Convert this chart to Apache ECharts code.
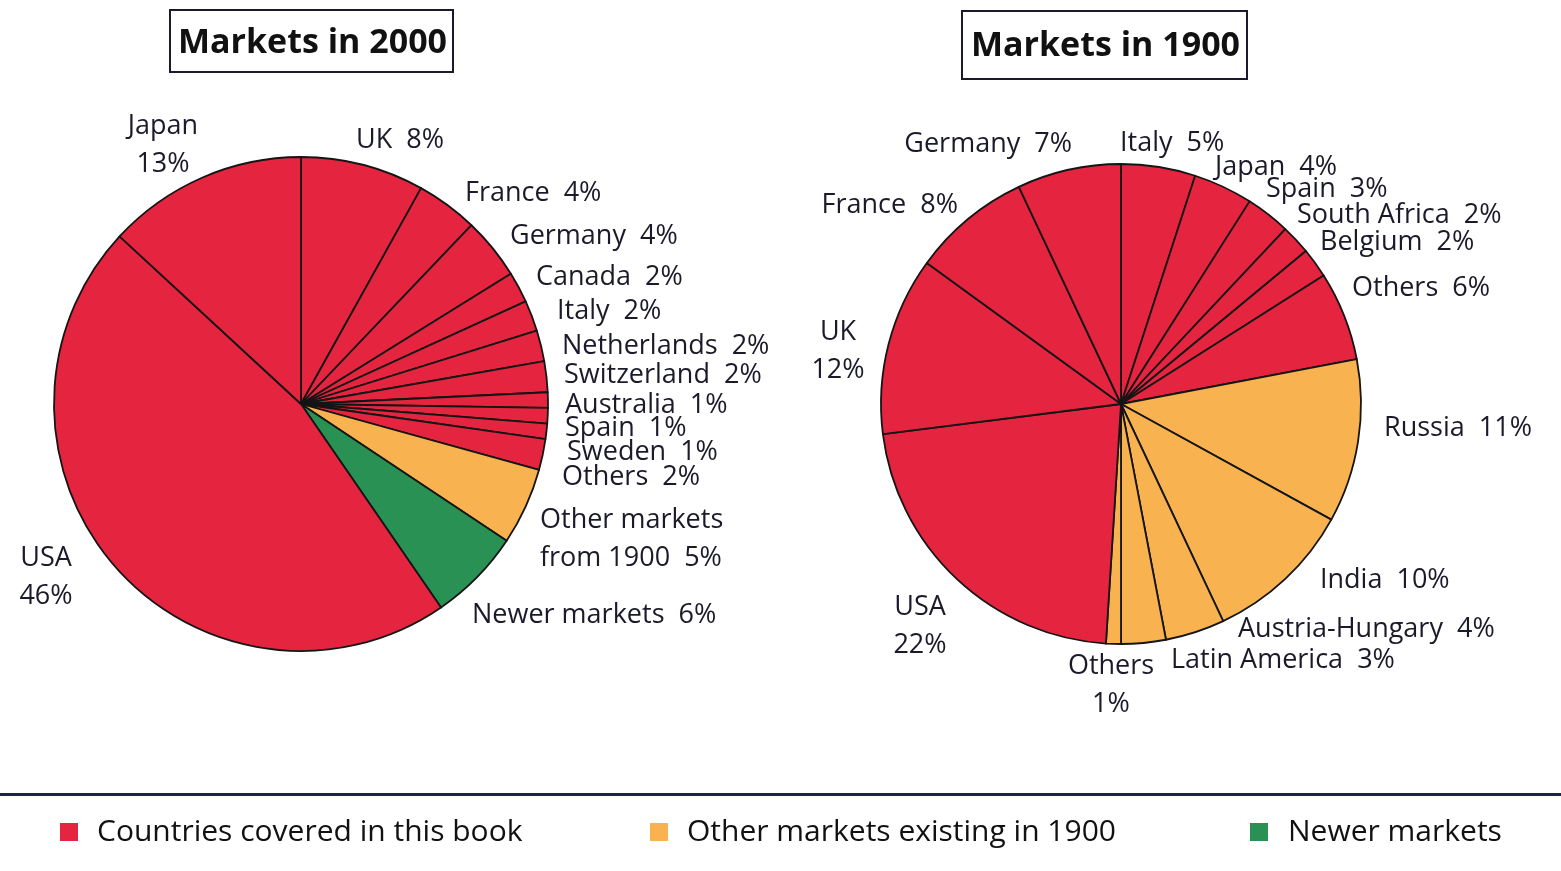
<!DOCTYPE html>
<html>
<head>
<meta charset="utf-8">
<script src="https://cdn.jsdelivr.net/npm/echarts@6/dist/echarts.min.js"></script>
<style>
  html, body { margin: 0; padding: 0; background: #ffffff; }
  #chart { width: 1561px; height: 871px; }
</style>
</head>
<body>
<div id="chart"></div>
<script>
// ---- Data ----
const groupNames = ["Countries covered in this book", "Other markets existing in 1900", "Newer markets"];
const groupColors = ["#e5243f", "#f8b24f", "#2a9155"];

const names2000 = ["UK", "France", "Germany", "Canada", "Italy", "Netherlands", "Switzerland", "Australia", "Spain", "Sweden", "Others", "Other markets\nfrom 1900", "Newer markets", "USA", "Japan"];
const values2000 = [8, 4, 4, 2, 2, 2, 2, 1, 1, 1, 2, 5, 6, 46, 13];
const groups2000 = [0, 0, 0, 0, 0, 0, 0, 0, 0, 0, 0, 1, 2, 0, 0];

const names1900 = ["Italy", "Japan", "Spain", "South Africa", "Belgium", "Others", "Russia", "India", "Austria-Hungary", "Latin America", "Others", "USA", "UK", "France", "Germany"];
const values1900 = [5, 4, 3, 2, 2, 6, 11, 10, 4, 3, 1, 22, 12, 8, 7];
const groups1900 = [0, 0, 0, 0, 0, 0, 1, 1, 1, 1, 1, 0, 0, 0, 0];

const titles = ["Markets in 2000", "Markets in 1900"];

// ---- Label placement (layout only; indices follow the data order) ----
// [x, y, align] anchor of each label, vertically centred
const labelPos2000 = {
  0: [356, 140, 'left'], 1: [465, 193, 'left'], 2: [510, 236, 'left'], 3: [536, 277, 'left'],
  4: [557, 311, 'left'], 5: [562, 346, 'left'], 6: [564, 375, 'left'], 7: [565, 405, 'left'],
  8: [565, 428, 'left'], 9: [567, 452, 'left'], 10: [562, 477, 'left'], 11: [540, 539, 'left'],
  12: [472, 615, 'left'], 13: [46, 577, 'center'], 14: [163, 145, 'center']
};
const labelPos1900 = {
  0: [1120, 143, 'left'], 1: [1215, 167, 'left'], 2: [1266, 189, 'left'], 3: [1297, 215, 'left'],
  4: [1320, 242, 'left'], 5: [1352, 288, 'left'], 6: [1384, 428, 'left'], 7: [1320, 580, 'left'],
  8: [1238, 629, 'left'], 9: [1171, 660, 'left'], 10: [1111, 685, 'center'], 11: [920, 626, 'center'],
  12: [838, 351, 'center'], 13: [958, 205, 'right'], 14: [1072, 144, 'right']
};
// labels whose value sits on a second line
const twoLine2000 = [13, 14];
const twoLine1900 = [10, 11, 12];

function buildData(names, values, groups) {
  return names.map((n, i) => ({
    name: n,
    value: values[i],
    itemStyle: { color: groupColors[groups[i]] }
  }));
}

function makeFormatter(twoLine) {
  return function (p) {
    const sep = twoLine.indexOf(p.dataIndex) >= 0 ? '\n' : '  ';
    return p.name + sep + p.value + '%';
  };
}

function makeLayout(pos) {
  return function (params) {
    const p = pos[params.dataIndex];
    if (!p) return {};
    return { x: p[0], y: p[1], align: p[2], verticalAlign: 'middle', hideOverlap: false };
  };
}

const FONT = '"Open Sans", "Noto Sans", sans-serif';
const labelStyle = {
  show: true,
  position: 'outside',
  fontFamily: FONT,
  fontSize: 27,
  lineHeight: 38,
  color: '#1a1a2a'
};

const chart = echarts.init(document.getElementById('chart'), null, { renderer: 'canvas' });

const option = {
  backgroundColor: '#ffffff',
  animation: false,
  title: [
    {
      text: titles[0], left: 170, top: 10,
      padding: [16, 6, 12, 8],
      borderColor: '#1a1a2a', borderWidth: 2,
      textStyle: { fontFamily: FONT, fontWeight: 'bold', fontSize: 34, color: '#111' }
    },
    {
      text: titles[1], left: 962, top: 11,
      padding: [18, 7, 16, 9],
      borderColor: '#1a1a2a', borderWidth: 2,
      textStyle: { fontFamily: FONT, fontWeight: 'bold', fontSize: 34, color: '#111' }
    }
  ],
  series: [
    {
      type: 'pie',
      center: [301, 404],
      radius: 247,
      startAngle: 90,
      clockwise: true,
      avoidLabelOverlap: false,
      itemStyle: { borderColor: '#151515', borderWidth: 1.8 },
      label: Object.assign({}, labelStyle, { formatter: makeFormatter(twoLine2000) }),
      labelLine: { show: false, length: 12, length2: 0 },
      labelLayout: makeLayout(labelPos2000),
      emphasis: { disabled: true },
      data: buildData(names2000, values2000, groups2000)
    },
    {
      type: 'pie',
      center: [1121, 404],
      radius: 240,
      startAngle: 90,
      clockwise: true,
      avoidLabelOverlap: false,
      itemStyle: { borderColor: '#151515', borderWidth: 1.8 },
      label: Object.assign({}, labelStyle, { formatter: makeFormatter(twoLine1900) }),
      labelLine: { show: false, length: 12, length2: 0 },
      labelLayout: makeLayout(labelPos1900),
      emphasis: { disabled: true },
      data: buildData(names1900, values1900, groups1900)
    }
  ],
  graphic: [
    { type: 'rect', shape: { x: 0, y: 793, width: 1561, height: 3 }, style: { fill: '#1d2150' } },
    { type: 'rect', shape: { x: 60, y: 823, width: 18, height: 18 }, style: { fill: groupColors[0] } },
    { type: 'text', x: 97, y: 832, style: { text: groupNames[0], font: '30px ' + FONT, fill: '#111', textVerticalAlign: 'middle' } },
    { type: 'rect', shape: { x: 650, y: 823, width: 18, height: 18 }, style: { fill: groupColors[1] } },
    { type: 'text', x: 687, y: 832, style: { text: groupNames[1], font: '30px ' + FONT, fill: '#111', textVerticalAlign: 'middle' } },
    { type: 'rect', shape: { x: 1250, y: 823, width: 18, height: 18 }, style: { fill: groupColors[2] } },
    { type: 'text', x: 1288, y: 832, style: { text: groupNames[2], font: '30px ' + FONT, fill: '#111', textVerticalAlign: 'middle' } }
  ]
};

chart.setOption(option);
</script>
</body>
</html>
